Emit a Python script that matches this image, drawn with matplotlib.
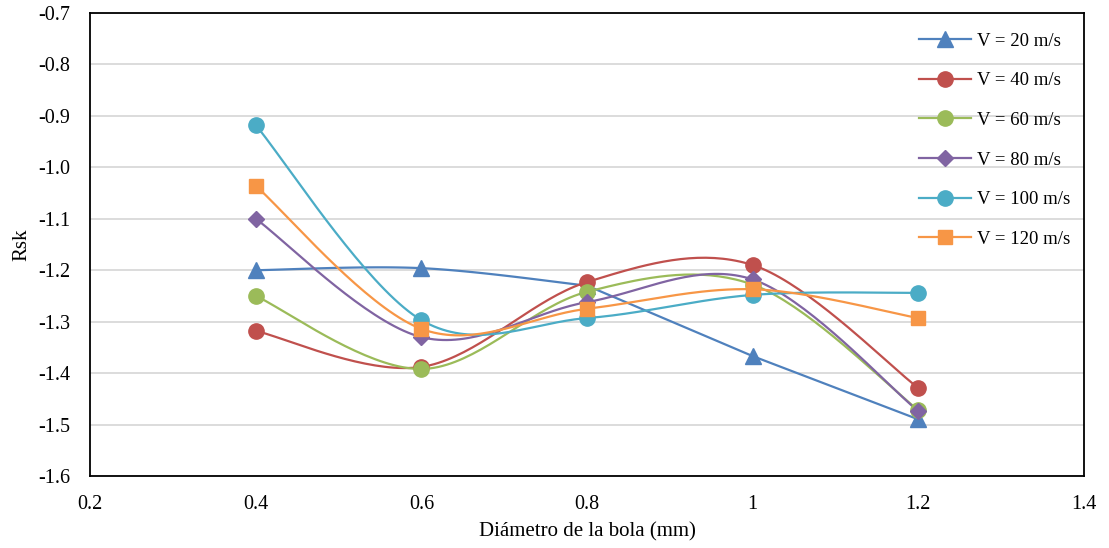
import numpy as np
import matplotlib.pyplot as plt

plt.rcParams['font.family'] = ['Liberation Serif', 'DejaVu Serif']

diametro = [0.4, 0.6, 0.8, 1.0, 1.2]
etiquetas = ['V = 20 m/s', 'V = 40 m/s', 'V = 60 m/s', 'V = 80 m/s', 'V = 100 m/s', 'V = 120 m/s']
v20 = [-1.200, -1.196, -1.230, -1.367, -1.490]
v40 = [-1.318, -1.388, -1.223, -1.190, -1.429]
v60 = [-1.250, -1.392, -1.242, -1.228, -1.472]
v80 = [-1.100, -1.330, -1.262, -1.218, -1.474]
v100 = [-0.918, -1.297, -1.293, -1.248, -1.244]
v120 = [-1.036, -1.314, -1.275, -1.237, -1.293]
series = [v20, v40, v60, v80, v100, v120]

colores = ['#4F81BD', '#C0504D', '#9BBB59', '#8064A2', '#4BACC6', '#F79646']
marcas = ['^', 'o', 'o', 'D', 'o', 's']
tams = [11, 11, 11, 8.5, 11, 10.5]


def suavizar(x, y, n=40):
    # curva tipo Excel: bezier con puntos de control catmull-rom
    x = np.asarray(x, float)
    y = np.asarray(y, float)
    px = np.concatenate([[x[0]], x, [x[-1]]])
    py = np.concatenate([[y[0]], y, [y[-1]]])
    xs, ys = [], []
    t = np.linspace(0, 1, n)
    for i in range(len(x) - 1):
        p0 = np.array([px[i + 1], py[i + 1]])
        p3 = np.array([px[i + 2], py[i + 2]])
        c1 = p0 + (np.array([px[i + 2], py[i + 2]]) - np.array([px[i], py[i]])) / 6
        c2 = p3 - (np.array([px[i + 3], py[i + 3]]) - np.array([px[i + 1], py[i + 1]])) / 6
        b = ((1 - t) ** 3)[:, None] * p0 + (3 * (1 - t) ** 2 * t)[:, None] * c1 \
            + (3 * (1 - t) * t ** 2)[:, None] * c2 + (t ** 3)[:, None] * p3
        xs.append(b[:, 0])
        ys.append(b[:, 1])
    return np.concatenate(xs), np.concatenate(ys)


fig = plt.figure(figsize=(11.09, 5.48), dpi=100)
ax = fig.add_axes([0.0812, 0.1314, 0.8963, 0.8449])

for i in range(len(series)):
    # la serie de 20 m/s es recta entre 0.8 y 1.2 en el original
    sx, sy = suavizar(diametro, series[i])
    if i == 0:
        sx1, sy1 = suavizar(diametro[:3], series[i][:3])
        sx = np.concatenate([sx1, diametro[2:]])
        sy = np.concatenate([sy1, series[i][2:]])
    ax.plot(sx, sy, color=colores[i], linewidth=1.6, zorder=2 + i)
    ax.plot(diametro, series[i], linestyle='none', marker=marcas[i],
            markersize=tams[i], color=colores[i], zorder=10 + i)
    ax.plot([], [], color=colores[i], linewidth=1.6, marker=marcas[i],
            markersize=tams[i], label=etiquetas[i])

ax.set_xlim(0.2, 1.4)
ax.set_ylim(-1.6, -0.7)
ax.set_xticks([0.2, 0.4, 0.6, 0.8, 1.0, 1.2, 1.4])
ax.set_xticklabels(['0.2', '0.4', '0.6', '0.8', '1', '1.2', '1.4'])
ax.set_yticks(np.arange(-1.6, -0.65, 0.1))
ax.set_yticklabels(['%.1f' % v for v in np.arange(-1.6, -0.65, 0.1)])
ax.tick_params(length=0, labelsize=14.5)
ax.tick_params(axis='x', pad=14)
ax.tick_params(axis='y', pad=14)
ax.yaxis.grid(True, color='#D9D9D9', linewidth=1.3)
ax.set_axisbelow(True)
for s in ax.spines.values():
    s.set_color('black')
    s.set_linewidth(1.3)

ax.set_xlabel('Diámetro de la bola (mm)', fontsize=15, va='center')
ax.xaxis.set_label_coords(0.5, -0.121)
ax.set_ylabel('Rsk', fontsize=15, va='center', ha='center')
ax.yaxis.set_label_coords(-0.069, 0.5)

ax.legend(loc='upper right', frameon=False, fontsize=13.5, handlelength=2.75,
          labelspacing=1.2, handletextpad=0.33, borderaxespad=0.65,
          bbox_to_anchor=(1.006, 1.0))

fig.savefig('out.png', dpi=100)
